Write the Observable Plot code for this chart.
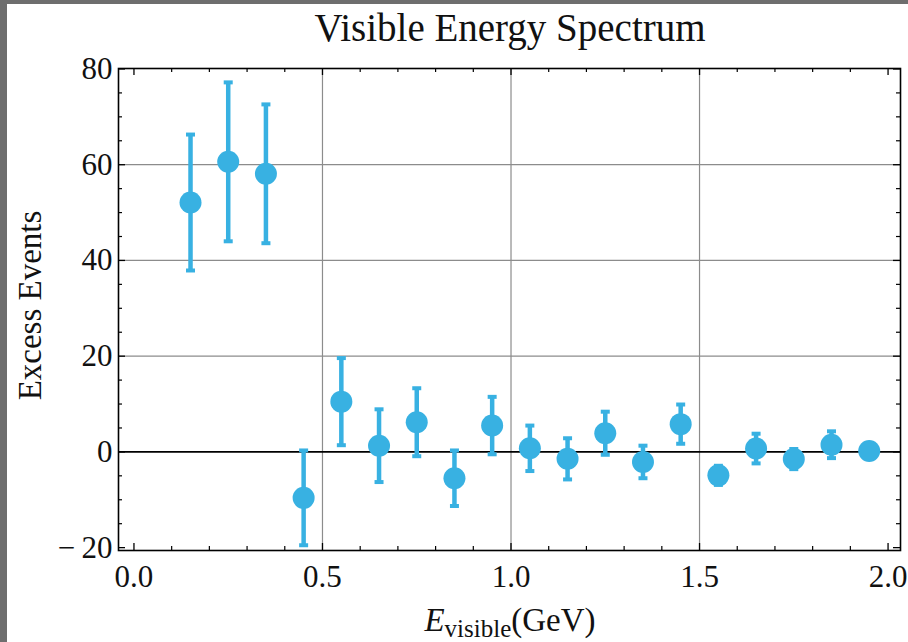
<!DOCTYPE html>
<html>
<head>
<meta charset="utf-8">
<script src="https://cdn.jsdelivr.net/npm/d3@7"></script>
<script src="https://cdn.jsdelivr.net/npm/@observablehq/plot@0.6"></script>
<style>
  html, body { margin: 0; padding: 0; background: #ffffff; overflow: hidden; }
  #page { position: relative; width: 908px; height: 642px; background: #ffffff; font-family: "Liberation Serif", "DejaVu Serif", serif; }
  #stripLeft { position: absolute; left: 0; top: 0; width: 7px; height: 642px; background: #6e6e6e; z-index: 5; }
  #stripTop { position: absolute; left: 0; top: 0; width: 908px; height: 4px; background: #6e6e6e; z-index: 5; }
  #title { position: absolute; left: 112px; width: 796px; top: 5px; text-align: center; font-size: 39px; color: #111; line-height: 46px; }
  #chart { position: absolute; left: 0; top: 0; }
  #xlabel { position: absolute; left: 112px; width: 796px; top: 600px; text-align: center; font-size: 33px; color: #111; line-height: 40px; white-space: nowrap; }
  #xlabel sub { font-size: 25px; vertical-align: -6px; line-height: 0; }
</style>
</head>
<body>
<div id="page">
  <div id="stripLeft"></div>
  <div id="stripTop"></div>
  <div id="chart"></div>
  <div id="title">Visible Energy Spectrum</div>
  <div id="xlabel"><i>E</i><sub>visible</sub>(GeV)</div>
</div>
<script>
// Data
const energy = [0.15, 0.25, 0.35, 0.45, 0.55, 0.65, 0.75, 0.85, 0.95, 1.05, 1.15, 1.25, 1.35, 1.45, 1.55, 1.65, 1.75, 1.85, 1.95];
const excess = [52.1, 60.6, 58.1, -9.6, 10.5, 1.3, 6.2, -5.5, 5.5, 0.75, -1.45, 3.9, -2.1, 5.8, -4.9, 0.7, -1.5, 1.5, 0.2];
const errors = [14.2, 16.6, 14.5, 9.9, 9.1, 7.6, 7.1, 5.8, 6.0, 4.75, 4.3, 4.5, 3.4, 4.1, 2.0, 3.1, 2.1, 2.8, 1.5];

const xMajor = [0, 0.5, 1.0, 1.5, 2.0];
const xMinor = d3.range(0, 2.01, 0.1).map(v => +v.toFixed(2));
const yMajor = [-20, 0, 20, 40, 60, 80];
const yMinor = d3.range(-20, 81, 5);
const xGrid = [0.5, 1.0, 1.5];
const yGrid = [20, 40, 60];

const data = energy.map((x, i) => ({x, y: excess[i], lo: excess[i] - errors[i], hi: excess[i] + errors[i]}));

const color = "#38b1e2";
const W = 908, H = 600;
const mT = 68, mB = 50, mL = 118, mR = 8;
const fw = W - mL - mR, fh = H - mT - mB;
const majorLen = 7, minorLen = 4;

const cap = { draw(ctx) { ctx.rect(-4.5, -2, 9, 4); } };

const chart = Plot.plot({
  width: W,
  height: H,
  marginTop: mT,
  marginBottom: mB,
  marginLeft: mL,
  marginRight: mR,
  style: { fontFamily: "Liberation Serif, serif", fontSize: "31px", color: "#111", background: "transparent" },
  x: { domain: [-0.041, 2.033] },
  y: { domain: [-20.6, 80.1] },
  marks: [
    Plot.gridX(xGrid, { stroke: "#8c8c8c", strokeOpacity: 1, strokeWidth: 1.2 }),
    Plot.gridY(yGrid, { stroke: "#8c8c8c", strokeOpacity: 1, strokeWidth: 1.2 }),
    Plot.ruleY([0], { stroke: "#000", strokeWidth: 1.6 }),
    // ticks (inward, on all four sides)
    Plot.tickX(xMajor, { x: d => d, insetTop: fh - majorLen, stroke: "#000", strokeWidth: 1.3 }),
    Plot.tickX(xMajor, { x: d => d, insetBottom: fh - majorLen, stroke: "#000", strokeWidth: 1.3 }),
    Plot.tickX(xMinor.filter(v => !xMajor.includes(v)), { x: d => d, insetTop: fh - minorLen, stroke: "#000", strokeWidth: 1.2 }),
    Plot.tickX(xMinor.filter(v => !xMajor.includes(v)), { x: d => d, insetBottom: fh - minorLen, stroke: "#000", strokeWidth: 1.2 }),
    Plot.tickY(yMajor, { y: d => d, insetRight: fw - majorLen, stroke: "#000", strokeWidth: 1.3 }),
    Plot.tickY(yMajor, { y: d => d, insetLeft: fw - majorLen, stroke: "#000", strokeWidth: 1.3 }),
    Plot.tickY(yMinor.filter(v => !yMajor.includes(v)), { y: d => d, insetRight: fw - minorLen, stroke: "#000", strokeWidth: 1.2 }),
    Plot.tickY(yMinor.filter(v => !yMajor.includes(v)), { y: d => d, insetLeft: fw - minorLen, stroke: "#000", strokeWidth: 1.2 }),
    Plot.frame({ stroke: "#000", strokeWidth: 1.6 }),
    Plot.axisX(xMajor, { tickSize: 0, tickPadding: 14, tickFormat: d3.format(".1f"), label: null }),
    Plot.axisY(yMajor, { tickSize: 0, tickPadding: 6, tickFormat: d => d < 0 ? "\u2212\u2009" + Math.abs(d) : String(d), label: null }),
    Plot.text(["Excess Events"], { frameAnchor: "left", rotate: -90, dx: -88, dy: -4, fontSize: 33, fill: "#111", textAnchor: "middle", lineAnchor: "middle" }),
    // error bars
    Plot.ruleX(data, { x: "x", y1: "lo", y2: "hi", stroke: color, strokeWidth: 4.5 }),
    Plot.dot(data, { x: "x", y: "hi", symbol: cap, fill: color, stroke: "none" }),
    Plot.dot(data, { x: "x", y: "lo", symbol: cap, fill: color, stroke: "none" }),
    Plot.dot(data, { x: "x", y: "y", r: 11, fill: color, stroke: "none" })
  ]
});
document.getElementById("chart").appendChild(chart);
</script>
</body>
</html>
